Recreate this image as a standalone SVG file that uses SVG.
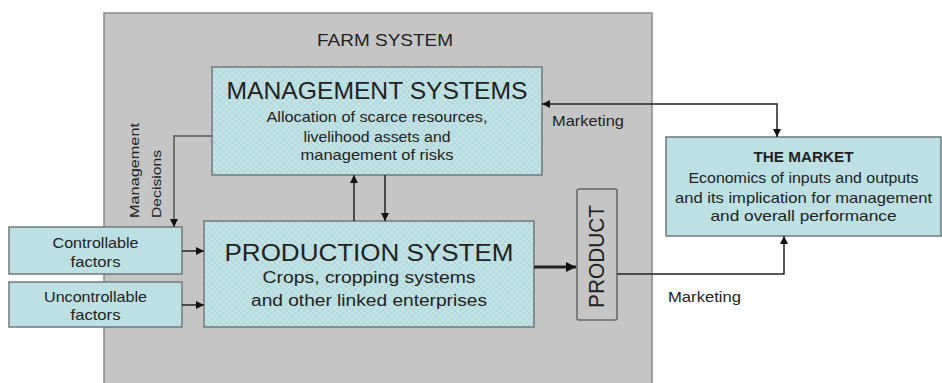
<svg xmlns="http://www.w3.org/2000/svg" width="942" height="383" viewBox="0 0 942 383">
<defs>
<style>
text{font-family:"Liberation Sans",Arial,sans-serif;fill:#222}
.box{fill:#bce0e3;stroke:#6f7a7b;stroke-width:1.5}
.dith{fill:url(#dither);stroke:#6f7a7b;stroke-width:1.5}
.ln{fill:none;stroke:#222;stroke-width:1.5}
.gl{fill:none;stroke:#555;stroke-width:1.5}
.s{font-size:14.5px;text-anchor:middle}
.t{font-size:24px;text-anchor:middle}
</style>
<pattern id="dither" width="6" height="6" patternUnits="userSpaceOnUse">
<rect width="6" height="6" fill="#c2e3e6"/>
<rect width="3" height="3" fill="#b6dadd"/>
<rect x="3" y="3" width="3" height="3" fill="#b6dadd"/>
</pattern>
<marker id="ah" viewBox="0 0 10 10" refX="10" refY="5" markerWidth="8" markerHeight="8" markerUnits="userSpaceOnUse" orient="auto-start-reverse">
<path d="M0,0 L10,5 L0,10 z" fill="#111"/>
</marker>
<marker id="ahb" viewBox="0 0 10 10" refX="10" refY="5" markerWidth="10" markerHeight="10" markerUnits="userSpaceOnUse" orient="auto">
<path d="M0,0 L10,5 L0,10 z" fill="#111"/>
</marker>
</defs>
<rect width="942" height="383" fill="#fff"/>
<g id="farm-system">
<rect x="104" y="13" width="548" height="375" fill="#c5c5c5" stroke="#8a8a8a" stroke-width="1.5"/>
<text x="385" y="46" font-size="16.5" text-anchor="middle" textLength="136" lengthAdjust="spacingAndGlyphs">FARM SYSTEM</text>
</g>
<g id="management-systems">
<rect class="dith" x="212" y="67" width="330" height="108"/>
<text class="t" x="377" y="99" textLength="301" lengthAdjust="spacingAndGlyphs">MANAGEMENT SYSTEMS</text>
<text class="s" x="377" y="122" textLength="221" lengthAdjust="spacingAndGlyphs">Allocation of scarce resources,</text>
<text class="s" x="377" y="142" textLength="147" lengthAdjust="spacingAndGlyphs">livelihood assets and</text>
<text class="s" x="377" y="160" textLength="153" lengthAdjust="spacingAndGlyphs">management of risks</text>
</g>
<g id="production-system">
<rect class="dith" x="204" y="221" width="330" height="106"/>
<text class="t" x="369" y="261" textLength="289" lengthAdjust="spacingAndGlyphs">PRODUCTION SYSTEM</text>
<text x="369" y="283" font-size="16" text-anchor="middle" textLength="213" lengthAdjust="spacingAndGlyphs">Crops, cropping systems</text>
<text x="369" y="306" font-size="16" text-anchor="middle" textLength="236" lengthAdjust="spacingAndGlyphs">and other linked enterprises</text>
</g>
<g id="controllable-factors">
<rect class="box" x="9" y="227" width="173" height="47"/>
<text class="s" x="95.5" y="248" textLength="86" lengthAdjust="spacingAndGlyphs">Controllable</text>
<text class="s" x="95.5" y="267" textLength="50" lengthAdjust="spacingAndGlyphs">factors</text>
</g>
<g id="uncontrollable-factors">
<rect class="box" x="9" y="282" width="173" height="45"/>
<text class="s" x="95.5" y="302" textLength="103" lengthAdjust="spacingAndGlyphs">Uncontrollable</text>
<text class="s" x="95.5" y="320" textLength="50" lengthAdjust="spacingAndGlyphs">factors</text>
</g>
<g id="product">
<rect x="577" y="189" width="40" height="131" rx="2" fill="#c5c5c5" stroke="#666" stroke-width="1.5"/>
<text x="0" y="0" font-size="22" text-anchor="middle" transform="translate(604,256.5) rotate(-90)" textLength="103" lengthAdjust="spacingAndGlyphs">PRODUCT</text>
</g>
<g id="the-market">
<rect class="box" x="666" y="137" width="275" height="99"/>
<text x="803.5" y="162" font-size="14.5" font-weight="bold" text-anchor="middle" textLength="100" lengthAdjust="spacingAndGlyphs">THE MARKET</text>
<text class="s" x="803.5" y="182.5" textLength="230" lengthAdjust="spacingAndGlyphs">Economics of inputs and outputs</text>
<text class="s" x="803.5" y="202.5" textLength="257" lengthAdjust="spacingAndGlyphs">and its implication for management</text>
<text class="s" x="803.5" y="221" textLength="186" lengthAdjust="spacingAndGlyphs">and overall performance</text>
</g>
<g id="labels">
<text x="0" y="0" font-size="13.5" transform="translate(139,218) rotate(-90)" textLength="95" lengthAdjust="spacingAndGlyphs">Management</text>
<text x="0" y="0" font-size="13.5" transform="translate(161,218) rotate(-90)" textLength="68" lengthAdjust="spacingAndGlyphs">Decisions</text>
<text x="552" y="126" font-size="14.5" textLength="72" lengthAdjust="spacingAndGlyphs">Marketing</text>
<text x="668" y="302" font-size="14.5" textLength="73" lengthAdjust="spacingAndGlyphs">Marketing</text>
</g>
<g id="connectors">
<polyline class="gl" points="212,136 174,136 174,227" marker-end="url(#ah)"/>
<line class="ln" x1="182" y1="251" x2="204" y2="251" marker-end="url(#ah)"/>
<line class="ln" x1="182" y1="305" x2="204" y2="305" marker-end="url(#ah)"/>
<line class="ln" x1="354" y1="221" x2="354" y2="175" marker-end="url(#ah)"/>
<line class="ln" x1="385" y1="175" x2="385" y2="221" marker-end="url(#ah)"/>
<line x1="534" y1="267" x2="576" y2="267" stroke="#222" stroke-width="3" marker-end="url(#ahb)"/>
<polyline class="ln" points="542,104 777,104 777,137" marker-start="url(#ah)" marker-end="url(#ah)"/>
<polyline class="ln" points="617,274 784,274 784,236" stroke-width="1.2" marker-end="url(#ah)"/>
</g>
</svg>
